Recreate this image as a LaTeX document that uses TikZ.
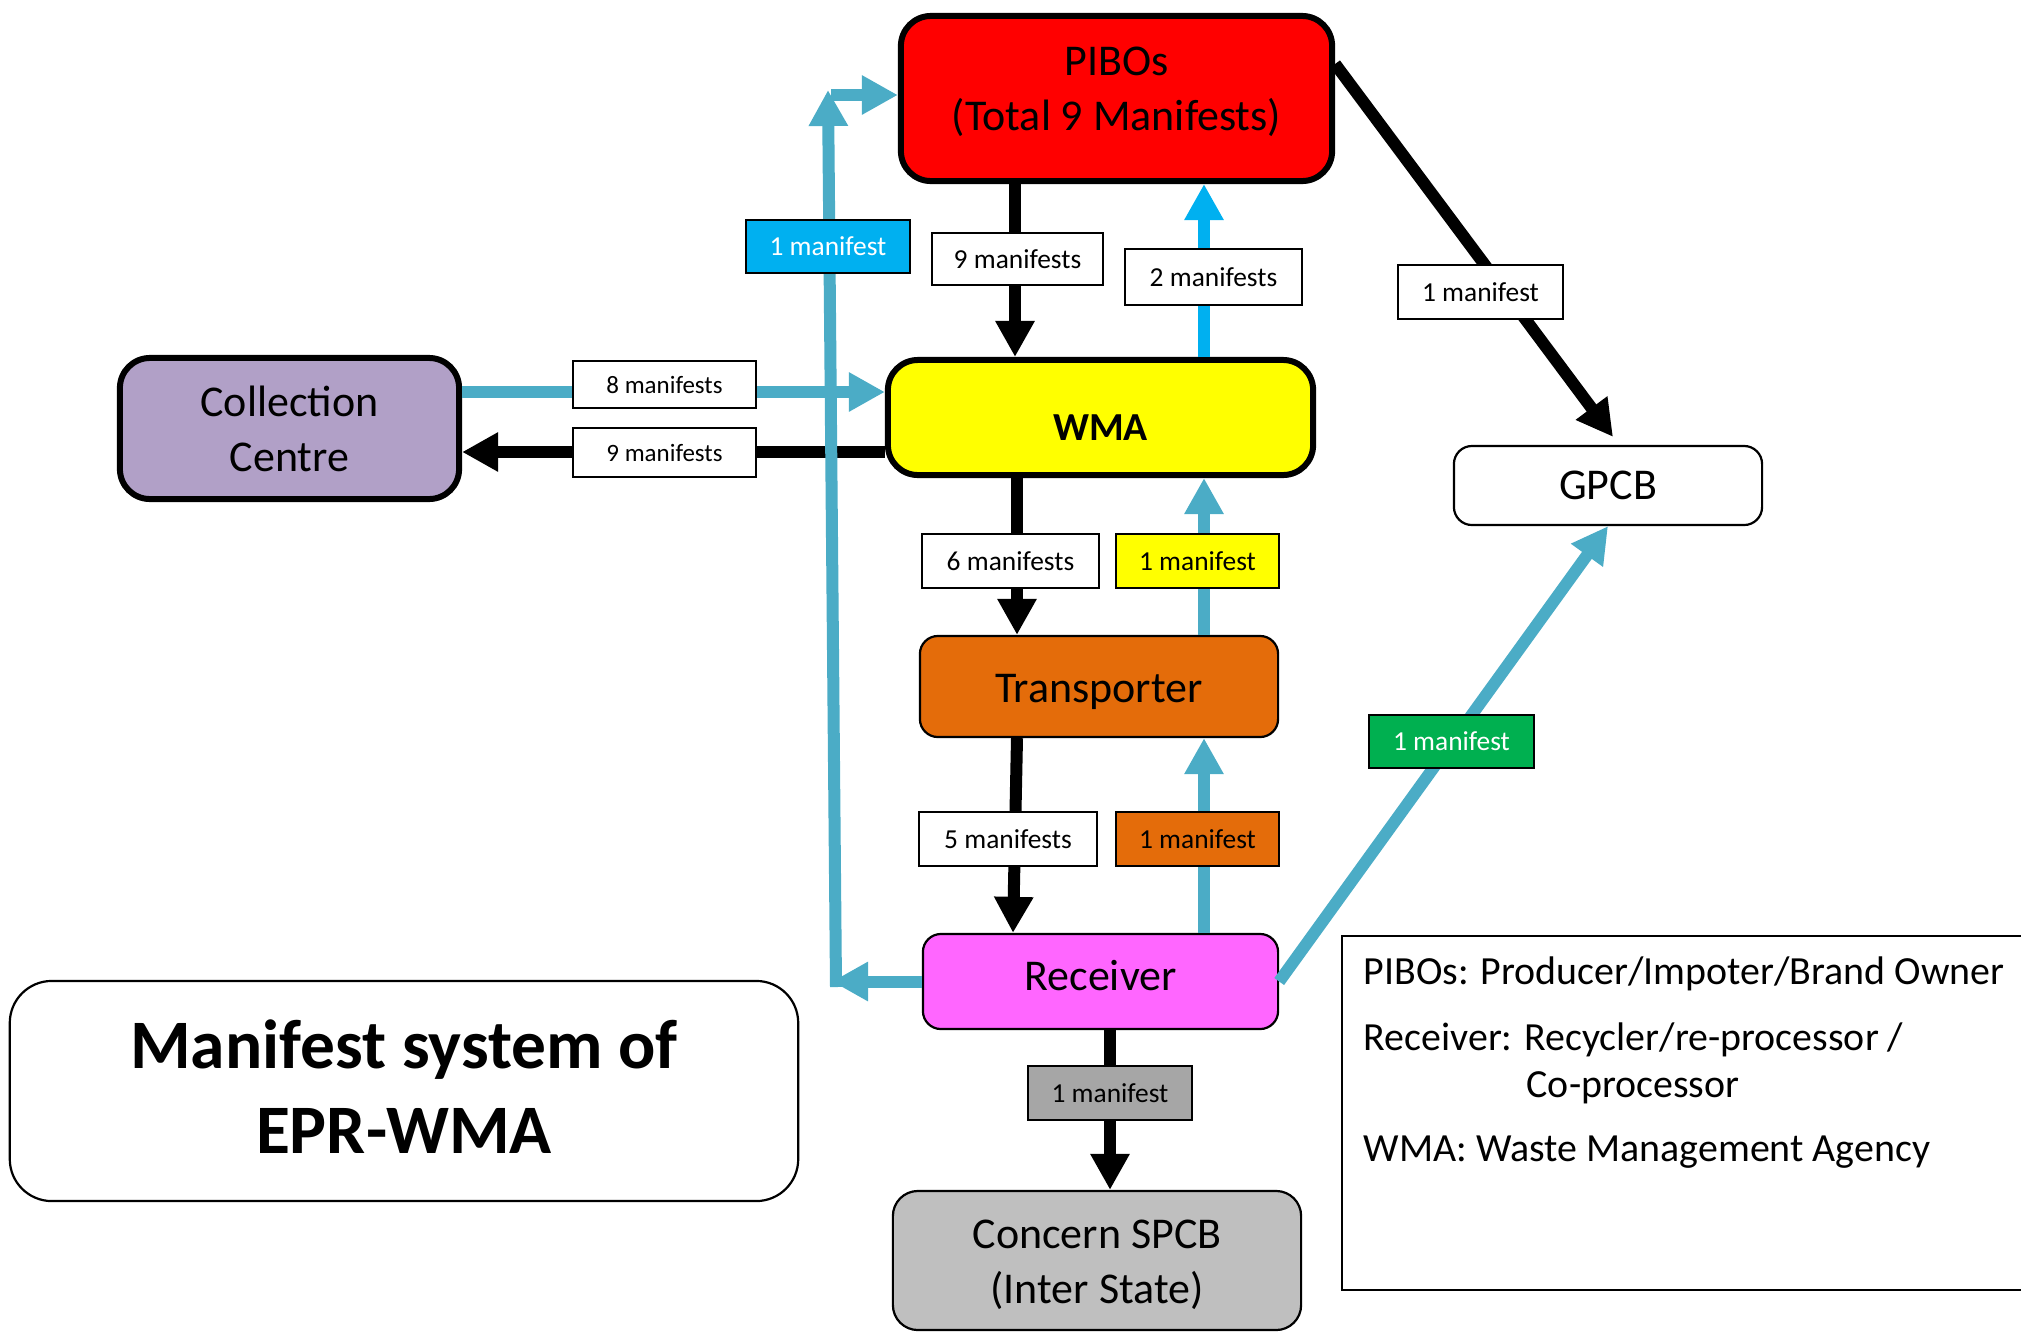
\documentclass[tikz,border=0pt]{standalone}
\usepackage{fontspec}
\setmainfont{Carlito}
\usetikzlibrary{arrows.meta}
\definecolor{cRed}{HTML}{FF0000}
\definecolor{cYel}{HTML}{FFFF00}
\definecolor{cLav}{HTML}{B1A0C7}
\definecolor{cOra}{HTML}{E46C0A}
\definecolor{cPink}{HTML}{FF66FF}
\definecolor{cGray}{HTML}{BFBFBF}
\definecolor{cGrayL}{HTML}{A6A6A6}
\definecolor{cSky}{HTML}{00B0F0}
\definecolor{cTeal}{HTML}{4BACC6}
\definecolor{cGreen}{HTML}{00B050}
\begin{document}
\begin{tikzpicture}[x=0.01cm,y=-0.01cm,
  thickbox/.style={draw=black,line width=0.06cm,rounded corners=0.3cm,inner sep=0pt,align=center,font=\fontsize{12.5}{15.6}\selectfont},
  thinbox/.style={draw=black,line width=0.022cm,rounded corners=0.18cm,inner sep=0pt,align=center,font=\fontsize{12.5}{15.6}\selectfont},
  boxtext/.style={inner sep=0pt,align=center,font=\fontsize{12.5}{15.6}\selectfont},
  lbl/.style={draw=black,line width=0.02cm,inner sep=0pt,font=\fontsize{7.8}{9}\selectfont,minimum width=1.64cm,minimum height=0.53cm},
  lbls/.style={lbl,font=\fontsize{7.1}{8.5}\selectfont},
  blk/.style={line width=0.12cm,draw=black,-{Triangle[length=0.36cm,width=0.37cm]}},
  blu/.style={line width=0.12cm,draw=cTeal,-{Triangle[length=0.36cm,width=0.37cm]}},
  sky/.style={line width=0.12cm,draw=cSky,-{Triangle[length=0.36cm,width=0.37cm]}},
  legtext/.style={anchor=base west,inner sep=0pt,font=\fontsize{11.35}{13.7}\selectfont}
]
\useasboundingbox (0,0) rectangle (2021,1333);
\clip (0,0) rectangle (2021,1333);

% main boxes
\node[thickbox,fill=cRed,minimum width=4.31cm,minimum height=1.65cm] (pibo) at (1116.5,98.5) {};
\node[boxtext] (piboT) at (1116.5,92) {PIBOs\\(Total 9 Manifests)};
\node[thickbox,fill=cYel,minimum width=4.25cm,minimum height=1.15cm,font=\fontsize{11.3}{13}\selectfont\bfseries,text height=0.5cm,text depth=0.05cm] (wma) at (1100.5,417.5) {WMA};
\node[thickbox,fill=cLav,minimum width=3.39cm,minimum height=1.41cm] (cc) at (289.5,428.5) {Collection\\Centre};
\node[thinbox,fill=white,minimum width=3.08cm,minimum height=0.79cm] (gpcb) at (1608,485.5) {GPCB};
\node[thinbox,fill=cOra,minimum width=3.58cm,minimum height=1.01cm] (trn) at (1099,686.5) {};
\node[boxtext] (trnT) at (1099,691.5) {Transporter};
\node[thinbox,fill=cPink,minimum width=3.55cm,minimum height=0.95cm] (rcv) at (1100.5,981.5) {};
\node[boxtext] (rcvT) at (1100.5,975.5) {Receiver};
\node[thinbox,fill=cGray,minimum width=4.08cm,minimum height=1.39cm,rounded corners=0.25cm] (spcb) at (1097,1260.5) {};
\node[boxtext] (spcbT) at (1097,1265) {Concern SPCB\\(Inter State)};
\node[thinbox,fill=white,minimum width=7.88cm,minimum height=2.2cm,rounded corners=0.42cm] (title) at (404,1091) {};
\node[boxtext,font=\fontsize{19.75}{24.2}\selectfont\bfseries] (titleT) at (404,1086.5) {Manifest system of\\EPR-WMA};

% helper coordinates
\coordinate (cL) at (1015,0);
\coordinate (cR) at (1204,0);
\coordinate (cS) at (1110,0);
\coordinate (tA) at (1017,0);
\coordinate (tB) at (1013,0);
\coordinate (yA) at (0,392);
\coordinate (yB) at (0,452);
\coordinate (gS) at (0,64);
\coordinate (lpB) at (832,981.5);
\coordinate (lpS) at (836,987);
\coordinate (lpT) at (828,90);
\coordinate (lpH) at (831,95);

% connectors
\draw[blk] (pibo.south -| cL) -- (wma.north -| cL);
\draw[sky] (wma.north -| cR) -- (pibo.south -| cR);
\draw[blu] (cc.east |- yA) -- (wma.west |- yA);
\draw[blk] (wma.west |- yB) -- (cc.east |- yB);
\draw[blk] (wma.south -| tA) -- (trn.north -| tA);
\draw[blu] (trn.north -| cR) -- (wma.south -| cR);
\draw[blk] (trn.south -| tA) -- (rcv.north -| tB);
\draw[blu] (rcv.north -| cR) -- (trn.south -| cR);
\draw[blk] (rcv.south -| cS) -- (spcb.north -| cS);
\draw[blk] (pibo.east |- gS) -- ([shift={(5,-8)}]gpcb.north);
\draw[blu] (rcv.east) -- (gpcb.south);
\draw[blu] (rcv.west) -- (lpB);
\draw[blu] (lpS) -- (lpT);
\draw[blu] (lpH) -- (pibo.west |- lpH);

% labels
\node[lbl,fill=cSky,text=white] (l1) at (828,246.5) {1 manifest};
\node[lbl,fill=white,minimum width=1.71cm,minimum height=0.52cm] (l9a) at (1017.5,259) {9 manifests};
\node[lbl,fill=white,minimum width=1.77cm,minimum height=0.56cm] (l2) at (1213.5,277) {2 manifests};
\node[lbl,fill=white] (lg) at (1480.5,292) {1 manifest};
\node[lbls,fill=white,minimum width=1.83cm,minimum height=0.47cm] (l8) at (664.5,384.5) {8 manifests};
\node[lbls,fill=white,minimum width=1.83cm,minimum height=0.49cm] (l9b) at (664.5,452.5) {9 manifests};
\node[lbl,fill=white,minimum width=1.77cm,minimum height=0.54cm] (l6) at (1010.5,561) {6 manifests};
\node[lbl,fill=cYel,minimum width=1.63cm,minimum height=0.54cm] (ly) at (1197.5,561) {1 manifest};
\node[lbl,fill=white,minimum width=1.78cm,minimum height=0.54cm] (l5) at (1008,839) {5 manifests};
\node[lbl,fill=cOra,minimum width=1.63cm,minimum height=0.54cm] (lo) at (1197.5,839) {1 manifest};
\node[lbl,fill=cGreen,text=white] (lgr) at (1451.5,741.5) {1 manifest};
\node[lbl,fill=cGrayL,minimum height=0.54cm] (lgy) at (1110,1093) {1 manifest};

% legend
\draw[line width=0.022cm] (1342,936) rectangle (2060,1290);
\node[legtext] (d1) at (1363,984) {PIBOs: Producer/Impoter/Brand Owner};
\node[legtext] (d2) at (1363,1050) {Receiver: Recycler/re-processor /};
\node[legtext] (d3) at (1526,1097) {Co-processor};
\node[legtext] (d4) at (1363,1161) {WMA: Waste Management Agency};
\end{tikzpicture}
\end{document}
